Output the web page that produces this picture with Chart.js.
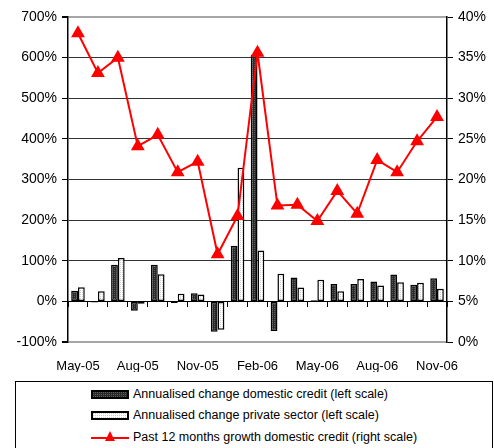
<!DOCTYPE html>
<html>
<head>
<meta charset="utf-8">
<script src="https://cdn.jsdelivr.net/npm/chart.js@4.4.1/dist/chart.umd.min.js"></script>
<style>
  html, body { margin: 0; padding: 0; background: #fff; overflow: hidden; }
  #wrap { position: relative; width: 494px; height: 448px; }
  #chart { position: absolute; left: 0; top: 0; }
  #legend {
    position: absolute; left: 15px; top: 381px; width: 478px; height: 90px;
    border: 1px solid #000; box-sizing: border-box;
    font: 12.5px "Liberation Sans", Arial, sans-serif; color: #000;
  }
  .row { position: absolute; left: 75px; height: 14px; display: flex; align-items: center; white-space: nowrap; }
  .sw { width: 38px; height: 9px; margin-right: 4px; box-sizing: border-box; border: 2px solid #000; }
  .swline { position: relative; width: 38px; height: 12px; margin-right: 4px; }
  .swline .ln { position: absolute; left: 0; right: 0; top: 6px; height: 2px; background: #ff0000; }
  .swline .tri { position: absolute; left: 14px; top: 0; width: 0; height: 0;
    border-left: 5px solid transparent; border-right: 5px solid transparent; border-bottom: 10px solid #ff0000; }
</style>
</head>
<body>
<div id="wrap">
  <canvas id="chart" width="494" height="372"></canvas>
  <div id="legend"></div>
</div>
<script>
// months on the category axis
const months = ['May-05', 'Jun-05', 'Jul-05', 'Aug-05', 'Sep-05', 'Oct-05', 'Nov-05', 'Dec-05', 'Jan-06',
  'Feb-06', 'Mar-06', 'Apr-06', 'May-06', 'Jun-06', 'Jul-06', 'Aug-06', 'Sep-06', 'Oct-06', 'Nov-06'];

// left scale, %
const domesticCredit = [26, -3, 90, -23, 90, -4, 20, -75, 137, 607, -73, 59, 3, 43, 43, 49, 66, 41, 57];
const privateSector = [35, 25, 107, -6, 67, 19, 17, -70, 329, 125, 68, 34, 53, 25, 55, 39, 47, 46, 31];

// right scale, %
const growth12m = [38.0, 33.1, 35.0, 24.1, 25.5, 20.9, 22.2, 10.8, 15.5, 35.6, 16.8, 16.9, 14.9, 18.6, 15.8,
  22.4, 20.9, 24.7, 27.7];

const seriesNames = [
  'Annualised change domestic credit (left scale)',
  'Annualised change private sector (left scale)',
  'Past 12 months growth domestic credit (right scale)'
];

// dotted fills like the old excel bars
function dots(base, dot) {
  var c = document.createElement('canvas');
  c.width = 2; c.height = 2;
  var g = c.getContext('2d');
  g.fillStyle = base; g.fillRect(0, 0, 2, 2);
  g.fillStyle = dot; g.fillRect(0, 0, 1, 1);
  return c;
}
var darkTile = dots('#2a2a2a', '#5c5c5c');
var lightTile = dots('#ffffff', '#cfcfcf');

var ctx = document.getElementById('chart').getContext('2d');
var font = { family: '"Liberation Sans", Arial, sans-serif', size: 13 };
var edge = function(c) { return c.tick && (c.tick.value === 700 || c.tick.value === -100); };

var myChart = new Chart(ctx, {
  type: 'bar',
  data: {
    labels: months,
    datasets: [{
      type: 'line',
      label: seriesNames[2],
      data: growth12m,
      yAxisID: 'y1',
      order: 0,
      borderColor: '#ff0000',
      backgroundColor: '#ff0000',
      borderWidth: 2,
      pointStyle: 'triangle',
      pointRadius: 6,
      pointBackgroundColor: '#ff0000',
      pointBorderColor: '#ff0000',
      tension: 0
    }, {
      label: seriesNames[0],
      data: domesticCredit,
      yAxisID: 'y',
      order: 1,
      backgroundColor: ctx.createPattern(darkTile, 'repeat'),
      borderColor: '#000',
      borderWidth: 1.5,
      borderSkipped: false,
      categoryPercentage: 0.68,
      barPercentage: 1.0
    }, {
      label: seriesNames[1],
      data: privateSector,
      yAxisID: 'y',
      order: 1,
      backgroundColor: ctx.createPattern(lightTile, 'repeat'),
      borderColor: '#000',
      borderWidth: 1.5,
      borderSkipped: false,
      categoryPercentage: 0.68,
      barPercentage: 1.0
    }]
  },
  options: {
    responsive: false,
    animation: false,
    layout: { padding: { top: 17, left: 0, right: 0, bottom: 0 } },
    plugins: { legend: { display: false }, tooltip: { enabled: false } },
    scales: {
      x: {
        offset: true,
        grid: { display: false, drawTicks: false },
        border: { display: false },
        ticks: {
          autoSkip: false, maxRotation: 0, padding: 17, color: '#000', font: font,
          callback: function(v, i) { return i % 3 === 0 ? months[i] : ''; }
        },
        afterFit: function(s) { s.height = 30; }
      },
      x2: {
        type: 'category',
        position: { y: 0 },
        offset: true,
        grid: { offset: true, drawOnChartArea: false, drawTicks: true, tickLength: 5, color: '#000' },
        border: { display: true, color: '#000', width: 1 },
        ticks: { display: false }
      },
      y: {
        position: 'left',
        min: -100, max: 700,
        ticks: { stepSize: 100, padding: 5, color: '#000', font: { family: font.family, size: 14 },
          callback: function(v) { return v + '%'; } },
        grid: {
          color: function(c) { return edge(c) ? '#a6a6a6' : '#333'; },
          lineWidth: function(c) { return edge(c) ? 2 : 1; },
          tickColor: '#000', tickLength: 6
        },
        border: { color: '#000', width: 1.5 },
        afterFit: function(s) { s.width = 68; }
      },
      y1: {
        position: 'right',
        min: 0, max: 40,
        ticks: { stepSize: 5, padding: 5, color: '#000', font: { family: font.family, size: 14 },
          callback: function(v) { return v + '%'; } },
        grid: { drawOnChartArea: false, tickColor: '#000', tickLength: 6 },
        border: { color: '#000', width: 1.5 },
        afterFit: function(s) { s.width = 47; }
      }
    }
  }
});

// legend box below the plot
var legend = document.getElementById('legend');
var rowTops = [5, 26, 48];
[1, 2, 0].forEach(function(di, k) {
  var ds = myChart.data.datasets[di];
  var row = document.createElement('div');
  row.className = 'row';
  row.style.top = rowTops[k] + 'px';
  var sw = document.createElement('div');
  if (ds.type === 'line') {
    sw.className = 'swline';
    sw.innerHTML = '<div class="ln"></div><div class="tri"></div>';
  } else {
    sw.className = 'sw';
    sw.style.backgroundImage = 'url(' + (di === 1 ? darkTile : lightTile).toDataURL() + ')';
  }
  row.appendChild(sw);
  var txt = document.createElement('span');
  txt.textContent = ds.label;
  row.appendChild(txt);
  legend.appendChild(row);
});
</script>
</body>
</html>
